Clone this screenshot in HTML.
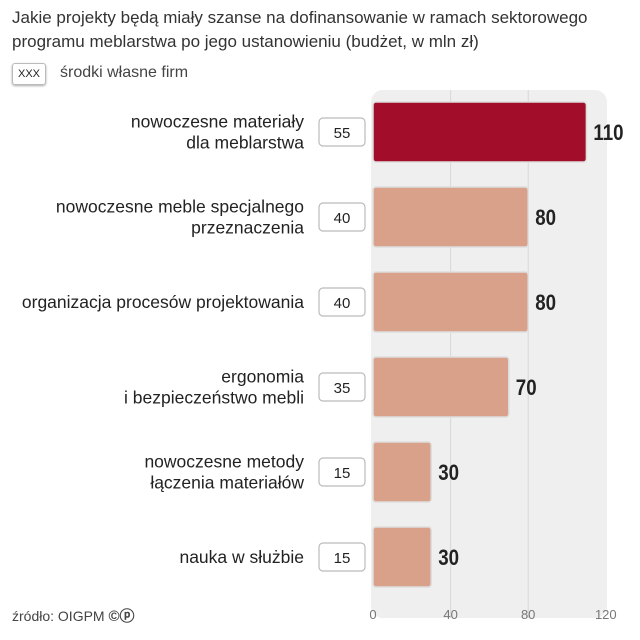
<!DOCTYPE html>
<html><head><meta charset="utf-8"><style>
body{margin:0;background:#fff;font-family:"Liberation Sans",sans-serif;color:#222}
#root{position:relative;width:640px;height:640px;overflow:hidden}
.t{position:absolute;white-space:nowrap}
</style></head><body>
<div id="root">
<div class="t" style="left:12px;top:6px;font-size:17px;line-height:24px;color:#333">Jakie projekty będą miały szanse na dofinansowanie w ramach sektorowego<br>programu meblarstwa po jego ustanowieniu (budżet, w mln zł)</div>
<div class="t" style="left:12px;top:63px;width:32px;height:20px;border:1px solid #bbb;border-radius:3px;box-shadow:0 1px 2px #aaa;font-size:11px;line-height:20px;text-align:center">XXX</div>
<div class="t" style="left:60px;top:64px;font-size:16px;color:#444">środki własne firm</div>
<svg id="svg" width="640" height="640" style="position:absolute;left:0;top:0"></svg>
<div class="t" style="left:12px;top:605px;font-size:14px;color:#444">źródło: OIGPM <b style="font-size:15px">©ⓟ</b></div>
</div>
<script>
const categories=["nowoczesne materiały\ndla meblarstwa","nowoczesne meble specjalnego\nprzeznaczenia","organizacja procesów projektowania","ergonomia\ni bezpieczeństwo mebli","nowoczesne metody\nłączenia materiałów","nauka w służbie"];
const budget=[110,80,80,70,30,30];
const ownFunds=[55,40,40,35,15,15];
const ticks=[0,40,80,120];
const NS="http://www.w3.org/2000/svg";
const svg=document.getElementById('svg');
const x0=373,sc=1.94,rowTop=102,pitch=85,bh=60;
const xs=v=>x0+v*sc;
function mk(t,a){const e=document.createElementNS(NS,t);for(const k in a)e.setAttribute(k,a[k]);svg.appendChild(e);return e;}
const bg=mk('rect',{x:371,y:90,width:236,height:528,rx:12,fill:'#efefef'});


ticks.forEach(t=>{
 if(t>0&&t<120){const l=mk('line',{x1:xs(t),x2:xs(t),y1:90,y2:618,stroke:'#d8d8d8','stroke-width':1});
 
 }
 const tx=mk('text',{x:xs(t),y:619,'text-anchor':'middle','font-size':13,fill:'#777'});tx.textContent=t;
 
 
});
categories.forEach((c,i)=>{
 const y=rowTop+i*pitch,cy=y+bh/2;
 const r=mk('rect',{x:x0,y:y,width:budget[i]*sc,height:bh,rx:3,fill:i==0?'#a20e29':'#d9a08a',stroke:'#ddd','stroke-width':1.5});
 
 
 const v=mk('text',{x:0,y:0,'font-size':22,'font-weight':'bold',fill:'#222',transform:`translate(${xs(budget[i])+7},${cy+8}) scale(0.85,1)`});v.textContent=budget[i];
 
 
 const b=mk('rect',{x:319,y:cy-14,width:46,height:28,rx:4,fill:'#fff',stroke:'#bbb','stroke-width':1.2});
 
 
 const bt=mk('text',{x:342,y:cy+6,'text-anchor':'middle','font-size':15,fill:'#222'});bt.textContent=ownFunds[i];
 
 
 const lines=c.split('\n');
 lines.forEach((ln,j)=>{const lt=mk('text',{x:304,y:cy+6+(j-(lines.length-1)/2)*21,'text-anchor':'end','font-size':17.5,fill:'#222'});lt.textContent=ln;
 
 });
});
</script>
</body></html>
